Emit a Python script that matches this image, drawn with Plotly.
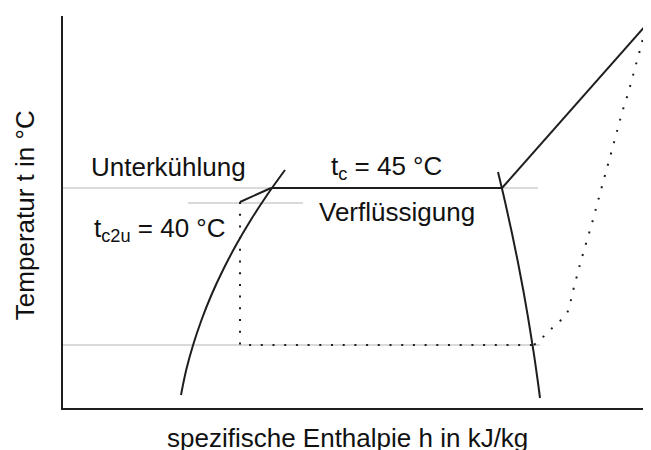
import plotly.graph_objects as go

# ---- data (h: specific enthalpy, arbitrary units; t: temperature, arbitrary units) ----
liquid_h = [118, 123.2, 130.1, 138.5, 148.4, 160, 173.1, 187.8, 204.1, 222]
liquid_t = [13, 38, 63, 88, 113, 138, 163, 188, 213, 238]

vapor_h = [435, 442.1, 448.7, 454.9, 460.6, 465.8, 470.6, 474.9, 477]
vapor_t = [236, 206, 176, 146, 116, 86, 56, 26, 10]

cond_h = [208, 439]
cond_t = [220, 220]

superheat_h = [439, 584]
superheat_t = [220, 384]

subcool_h = [208, 177]
subcool_t = [220, 206]

cycle_h = [177, 177, 471]
cycle_t = [206, 63, 63]

compress_h = [471, 480, 488, 497, 504, 510, 516, 522, 529, 535, 541, 547, 553, 559, 566, 572, 578, 582]
compress_t = [63, 71, 79, 87, 95, 117, 140, 161, 185, 207, 229, 251, 273, 295, 318, 340, 362, 378]

grid1_h = [0, 475]
grid1_t = [220, 220]
grid2_h = [0, 477]
grid2_t = [63, 63]
grid3_h = [125, 240]
grid3_t = [205, 205]

labels = ["Unterkühlung", "t<sub>c</sub> = 45 °C", "Verflüssigung", "t<sub>c2u</sub> = 40 °C"]
label_h = [26, 266, 254, 29]
label_t = [241, 241, 196, 179]

x_title = "spezifische Enthalpie h in kJ/kg"
y_title = "Temperatur t in °C"

FONT = "Liberation Sans, Arial, sans-serif"
BLACK = "#1e1e1e"
GREY = "#b4b4b4"

fig = go.Figure()

def add(h, t, color, width, dash="solid", shape="linear"):
    fig.add_trace(go.Scatter(x=h, y=t, mode="lines",
                             line=dict(color=color, width=width, dash=dash, shape=shape),
                             showlegend=False, hoverinfo="skip"))

add(grid1_h, grid1_t, GREY, 1)
add(grid2_h, grid2_t, GREY, 1)
add(grid3_h, grid3_t, GREY, 1)
add(liquid_h, liquid_t, BLACK, 2, shape="spline")
add(vapor_h, vapor_t, BLACK, 2, shape="spline")
add(cond_h, cond_t, BLACK, 2)
add(superheat_h, superheat_t, BLACK, 2)
add(subcool_h, subcool_t, BLACK, 2)
add(cycle_h, cycle_t, BLACK, 2, dash="2px,9.7px")
add(compress_h, compress_t, BLACK, 2, dash="2px,9.7px", shape="spline")

for txt, h, t in zip(labels, label_h, label_t):
    fig.add_annotation(x=h, y=t, text=txt, showarrow=False, xanchor="left", yanchor="middle",
                       font=dict(family=FONT, size=26, color="#111"))

fig.add_annotation(x=0.483, y=-0.0765, xref="paper", yref="paper", text=x_title, showarrow=False,
                   xanchor="center", yanchor="middle", font=dict(family=FONT, size=26, color="#111"))
fig.add_annotation(x=-0.0646, y=0.492, xref="paper", yref="paper", text=y_title, showarrow=False,
                   textangle=-90, xanchor="center", yanchor="middle",
                   font=dict(family=FONT, size=26, color="#111"))

fig.update_xaxes(range=[0, 588], showline=True, linecolor=BLACK, linewidth=2, showgrid=False,
                 zeroline=False, showticklabels=False, ticks="")
fig.update_yaxes(range=[0, 392], showline=True, linecolor=BLACK, linewidth=2, showgrid=False,
                 zeroline=False, showticklabels=False, ticks="")

# page body has an 8px default margin, so the figure is sized/offset to compensate
fig.update_layout(width=643, height=442, margin=dict(l=55, r=0, t=8, b=42),
                  paper_bgcolor="white", plot_bgcolor="white")

fig.write_html("out.html")
